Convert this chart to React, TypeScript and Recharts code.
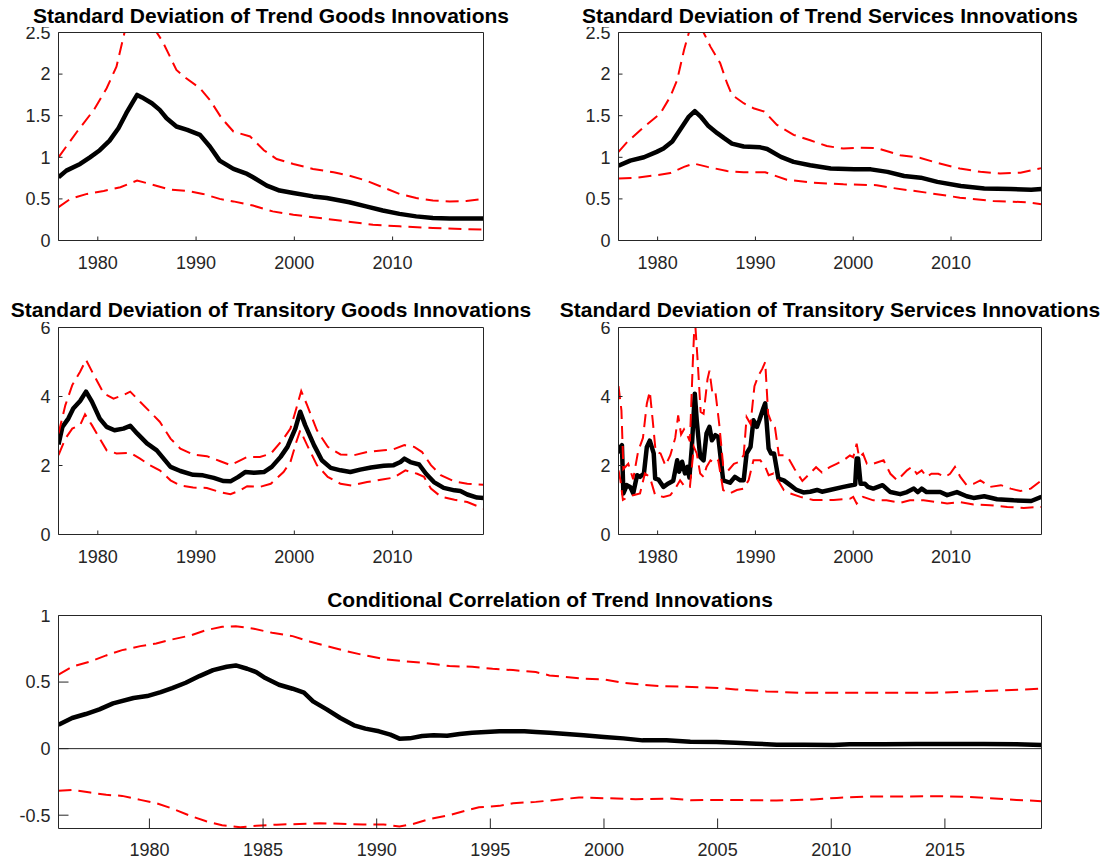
import React from 'react';
import { LineChart, Line, XAxis, YAxis, ReferenceLine } from 'recharts';

const FONT = '"Liberation Sans", Arial, Helvetica, sans-serif';
const AXIS = '#262626';

type P = [number, number];

// ---------- Panel titles ----------
const titles = [
  'Standard Deviation of Trend Goods Innovations',
  'Standard Deviation of Trend Services Innovations',
  'Standard Deviation of Transitory Goods Innovations',
  'Standard Deviation of Transitory Services Innovations',
  'Conditional Correlation of Trend Innovations',
];

// ---------- Axes ----------
const xDomain: [number, number] = [1976, 2019.25];
const xTicksDecade = [1980, 1990, 2000, 2010];
const xTicksFive = [1980, 1985, 1990, 1995, 2000, 2005, 2010, 2015];
const yTicksTrend = [0, 0.5, 1, 1.5, 2, 2.5];
const yTicksTrans = [0, 2, 4, 6];
const yTicksCorr = [-0.5, 0, 0.5, 1];

// ---------- Trend goods ----------
const trendGoodsMedian: P[] = [[1976.0,0.76],[1976.8,0.84],[1978.2,0.92],[1979.2,1.0],[1980.2,1.085],[1981.2,1.2],[1982.1,1.35],[1982.9,1.53],[1983.5,1.65],[1984.0,1.75],[1984.5,1.72],[1985.5,1.65],[1986.3,1.57],[1987.0,1.47],[1988.0,1.37],[1989.1,1.33],[1990.4,1.27],[1991.4,1.13],[1992.4,0.96],[1993.8,0.86],[1995.2,0.8],[1995.8,0.76],[1997.2,0.66],[1998.5,0.6],[1999.9,0.57],[2001.9,0.53],[2003.3,0.51],[2005.6,0.46],[2007.3,0.41],[2009.0,0.36],[2010.7,0.32],[2012.4,0.29],[2014.1,0.27],[2015.8,0.265],[2019.25,0.265]];
const trendGoodsUpper: P[] = [[1976.0,1.0],[1977.9,1.31],[1979.6,1.57],[1980.9,1.83],[1981.9,2.09],[1982.7,2.49],[1983.3,2.78],[1984.0,2.95],[1984.8,2.85],[1985.5,2.65],[1986.0,2.5],[1986.6,2.39],[1988.0,2.05],[1989.0,1.95],[1990.4,1.83],[1991.4,1.69],[1992.6,1.47],[1993.8,1.31],[1995.5,1.25],[1996.9,1.085],[1998.2,0.98],[1999.9,0.92],[2001.9,0.86],[2004.0,0.82],[2005.6,0.78],[2007.3,0.72],[2009.0,0.64],[2010.7,0.56],[2012.4,0.51],[2014.1,0.48],[2015.8,0.47],[2017.5,0.475],[2019.25,0.5]];
const trendGoodsLower: P[] = [[1976.0,0.4],[1977.2,0.5],[1978.9,0.56],[1980.6,0.595],[1982.3,0.64],[1984.0,0.72],[1985.3,0.68],[1987.4,0.61],[1989.1,0.595],[1990.7,0.56],[1992.4,0.5],[1993.8,0.47],[1995.8,0.42],[1997.8,0.35],[1999.9,0.31],[2002.6,0.27],[2005.3,0.23],[2008.0,0.19],[2010.7,0.17],[2014.1,0.15],[2019.25,0.13]];

// ---------- Trend services ----------
const trendServMedian: P[] = [[1976.0,0.9],[1977.2,0.96],[1978.6,1.0],[1979.9,1.065],[1980.6,1.105],[1981.5,1.19],[1982.3,1.33],[1983.2,1.49],[1983.8,1.555],[1984.4,1.49],[1985.2,1.375],[1986.1,1.29],[1986.8,1.23],[1987.6,1.165],[1988.8,1.13],[1990.5,1.12],[1991.2,1.1],[1992.6,1.005],[1993.9,0.945],[1995.6,0.905],[1997.7,0.865],[2000.1,0.855],[2001.8,0.855],[2003.5,0.825],[2005.2,0.775],[2006.9,0.755],[2008.6,0.705],[2011.0,0.655],[2013.4,0.625],[2016.1,0.62],[2018.2,0.61],[2019.25,0.62]];
const trendServUpper: P[] = [[1976.0,1.065],[1976.9,1.185],[1978.6,1.365],[1980.3,1.53],[1981.3,1.73],[1982.0,1.93],[1982.7,2.29],[1983.2,2.5],[1983.9,2.75],[1984.7,2.5],[1985.4,2.33],[1986.4,2.13],[1987.1,1.89],[1987.6,1.75],[1988.8,1.65],[1989.8,1.59],[1990.9,1.55],[1992.2,1.39],[1993.9,1.27],[1995.6,1.205],[1997.3,1.135],[1999.0,1.105],[2000.7,1.115],[2002.4,1.11],[2003.4,1.075],[2004.8,1.025],[2006.8,0.995],[2008.5,0.935],[2010.9,0.865],[2013.0,0.825],[2015.0,0.805],[2017.1,0.815],[2019.25,0.87]];
const trendServLower: P[] = [[1976.0,0.745],[1977.9,0.755],[1979.9,0.785],[1981.3,0.81],[1982.7,0.885],[1983.7,0.925],[1985.1,0.885],[1987.1,0.835],[1988.8,0.82],[1991.0,0.82],[1993.2,0.73],[1995.9,0.695],[1999.0,0.675],[2002.4,0.665],[2004.1,0.63],[2007.5,0.575],[2010.9,0.515],[2014.3,0.475],[2017.7,0.46],[2019.25,0.435]];

// ---------- Transitory goods ----------
const transGoodsMedian: P[] = [[1976.0,2.61],[1976.4,3.12],[1977.0,3.36],[1977.5,3.65],[1978.2,3.87],[1978.8,4.14],[1979.4,3.85],[1980.2,3.36],[1980.9,3.12],[1981.7,3.02],[1982.6,3.07],[1983.3,3.15],[1984.0,2.93],[1985.0,2.64],[1986.0,2.44],[1986.7,2.2],[1987.4,1.96],[1988.4,1.84],[1989.7,1.73],[1990.7,1.715],[1991.8,1.64],[1992.8,1.55],[1993.5,1.54],[1994.3,1.67],[1995.0,1.81],[1995.9,1.79],[1996.9,1.81],[1997.7,1.96],[1998.6,2.25],[1999.3,2.54],[2000.1,3.07],[2000.6,3.56],[2001.1,3.17],[2002.0,2.59],[2002.8,2.15],[2003.7,1.93],[2004.7,1.86],[2005.7,1.81],[2006.7,1.88],[2007.8,1.94],[2009.1,1.99],[2010.1,2.01],[2010.8,2.1],[2011.2,2.2],[2011.8,2.1],[2012.7,2.03],[2013.4,1.76],[2014.2,1.52],[2015.2,1.35],[2016.3,1.28],[2016.9,1.26],[2017.6,1.16],[2018.6,1.07],[2019.25,1.06]];
const transGoodsUpper: P[] = [[1976.0,2.93],[1976.7,3.75],[1977.4,4.33],[1978.2,4.72],[1978.8,5.06],[1979.6,4.62],[1980.6,4.09],[1981.6,3.94],[1982.6,4.04],[1983.3,4.14],[1984.3,3.85],[1985.3,3.56],[1986.3,3.27],[1987.4,2.78],[1988.4,2.49],[1989.7,2.32],[1991.1,2.27],[1992.4,2.13],[1993.5,2.01],[1994.5,2.15],[1995.2,2.25],[1996.5,2.25],[1997.6,2.34],[1998.9,2.78],[1999.6,3.07],[2000.2,3.65],[2000.7,4.16],[2001.3,3.75],[2002.3,3.02],[2003.4,2.54],[2004.7,2.32],[2006.1,2.3],[2007.4,2.39],[2009.1,2.44],[2010.1,2.47],[2011.2,2.59],[2012.2,2.54],[2013.0,2.39],[2013.9,2.01],[2014.9,1.72],[2016.3,1.54],[2017.6,1.47],[2019.25,1.44]];
const transGoodsLower: P[] = [[1976.0,2.3],[1976.7,2.78],[1977.4,3.07],[1978.2,3.17],[1978.7,3.48],[1979.4,3.17],[1980.2,2.78],[1980.9,2.44],[1981.9,2.35],[1983.3,2.37],[1984.3,2.2],[1985.3,2.01],[1986.3,1.86],[1987.4,1.57],[1988.4,1.42],[1989.7,1.36],[1991.1,1.35],[1992.4,1.23],[1993.5,1.17],[1994.5,1.28],[1995.2,1.4],[1996.5,1.38],[1997.6,1.47],[1998.9,1.81],[1999.6,2.1],[2000.2,2.68],[2000.6,3.02],[2001.3,2.59],[2002.3,2.01],[2003.4,1.67],[2004.7,1.47],[2005.8,1.42],[2007.4,1.52],[2009.1,1.6],[2010.1,1.65],[2011.3,1.86],[2012.5,1.76],[2013.2,1.67],[2013.9,1.33],[2014.9,1.1],[2016.3,1.01],[2017.6,0.94],[2019.25,0.75]];

// ---------- Transitory services ----------
const transServMedian: P[] = [[1976.0,2.35],[1976.2,2.54],[1976.35,2.59],[1976.5,1.19],[1976.85,1.43],[1977.2,1.38],[1977.5,1.19],[1977.9,1.72],[1978.2,1.67],[1978.6,1.77],[1978.9,2.54],[1979.2,2.72],[1979.6,2.35],[1979.75,1.62],[1980.1,1.59],[1980.6,1.38],[1981.1,1.48],[1981.6,1.56],[1982.0,2.15],[1982.2,1.82],[1982.5,2.11],[1982.8,1.77],[1983.05,1.96],[1983.25,1.65],[1983.5,2.54],[1983.8,4.08],[1984.0,3.31],[1984.35,2.25],[1984.7,2.15],[1985.0,2.93],[1985.3,3.12],[1985.55,2.73],[1985.9,2.88],[1986.2,2.83],[1986.7,1.57],[1987.4,1.5],[1987.9,1.67],[1988.45,1.57],[1988.8,1.57],[1989.1,2.35],[1989.5,2.54],[1989.8,3.31],[1990.15,3.12],[1990.4,3.31],[1990.8,3.65],[1991.0,3.8],[1991.35,2.49],[1991.6,2.35],[1991.9,2.35],[1992.35,1.62],[1992.9,1.57],[1993.55,1.43],[1994.2,1.29],[1994.9,1.22],[1995.6,1.24],[1996.3,1.29],[1996.8,1.24],[1997.6,1.29],[1999.0,1.38],[2000.2,1.45],[2000.35,2.2],[2000.5,2.2],[2000.75,1.47],[2001.2,1.47],[2001.5,1.38],[2002.05,1.33],[2003.0,1.43],[2003.8,1.23],[2004.8,1.17],[2005.5,1.23],[2006.2,1.33],[2006.6,1.23],[2007.0,1.33],[2007.5,1.23],[2008.9,1.23],[2009.6,1.14],[2010.6,1.23],[2011.6,1.11],[2012.3,1.06],[2013.4,1.11],[2014.7,1.02],[2016.4,0.99],[2018.2,0.97],[2019.25,1.09]];
const transServUpper: P[] = [[1976.0,4.3],[1976.3,3.6],[1976.5,1.9],[1977.0,2.05],[1977.5,1.6],[1978.0,2.4],[1978.5,2.8],[1978.9,3.8],[1979.2,4.15],[1979.5,3.3],[1979.8,2.4],[1980.3,2.35],[1980.8,2.0],[1981.3,2.3],[1981.8,2.8],[1982.1,3.45],[1982.4,2.9],[1982.7,3.05],[1983.0,2.9],[1983.3,2.7],[1983.6,5.0],[1983.8,6.3],[1984.1,5.0],[1984.4,3.55],[1984.7,3.5],[1985.1,4.5],[1985.3,4.75],[1985.6,4.1],[1985.9,4.15],[1986.3,3.2],[1986.7,2.0],[1987.2,1.85],[1987.8,2.05],[1988.3,2.1],[1988.8,2.3],[1989.1,3.4],[1989.5,3.2],[1989.9,4.3],[1990.3,4.6],[1990.7,4.8],[1991.0,5.0],[1991.3,3.5],[1991.7,3.2],[1992.0,3.1],[1992.4,2.3],[1992.9,2.3],[1993.4,2.2],[1994.0,1.9],[1994.8,1.55],[1995.5,1.75],[1996.2,1.95],[1996.8,1.8],[1997.6,1.95],[1998.3,2.05],[1999.0,2.15],[1999.66,2.29],[2000.0,2.24],[2000.35,2.63],[2000.6,2.24],[2001.0,2.34],[2001.4,2.05],[2002.05,2.05],[2003.1,2.15],[2003.8,1.76],[2004.5,1.57],[2005.5,1.86],[2006.0,1.96],[2006.5,1.76],[2007.0,1.86],[2007.5,1.67],[2008.0,1.76],[2008.7,1.76],[2009.4,1.67],[2009.9,1.76],[2010.4,1.96],[2010.95,1.67],[2011.6,1.43],[2012.3,1.47],[2013.0,1.57],[2014.0,1.38],[2015.1,1.43],[2016.1,1.33],[2017.1,1.26],[2018.15,1.33],[2019.25,1.57]];
const transServLower: P[] = [[1976.0,1.86],[1976.2,1.57],[1976.45,1.0],[1977.0,1.09],[1977.5,1.14],[1978.2,1.19],[1978.7,1.77],[1979.2,1.67],[1979.75,1.14],[1980.6,1.09],[1981.3,1.14],[1981.8,1.33],[1982.3,1.57],[1982.8,1.38],[1983.3,1.38],[1983.7,2.54],[1984.0,2.35],[1984.35,1.77],[1984.7,1.67],[1985.0,1.96],[1985.4,2.15],[1985.9,2.06],[1986.2,2.15],[1986.7,1.29],[1987.4,1.19],[1988.1,1.29],[1988.8,1.33],[1989.3,1.57],[1989.8,2.15],[1990.5,2.15],[1991.0,1.96],[1991.35,1.72],[1991.85,1.77],[1992.2,1.62],[1992.9,1.29],[1993.55,1.19],[1994.6,1.09],[1995.9,1.0],[1998.0,1.0],[1999.7,1.04],[2000.0,1.09],[2000.35,0.9],[2001.0,1.09],[2002.05,0.99],[2003.4,0.99],[2004.8,0.92],[2005.8,0.99],[2007.2,0.99],[2008.6,0.94],[2009.6,0.9],[2010.95,0.94],[2012.3,0.87],[2014.0,0.85],[2015.75,0.8],[2017.45,0.77],[2019.25,0.8]];

// ---------- Conditional correlation ----------
const corrMedian: P[] = [[1976.0,0.18],[1976.6,0.23],[1977.2,0.26],[1977.8,0.295],[1978.4,0.34],[1979.3,0.38],[1979.9,0.395],[1980.5,0.425],[1981.0,0.455],[1981.6,0.495],[1982.2,0.545],[1982.8,0.59],[1983.4,0.615],[1983.8,0.625],[1984.3,0.6],[1984.7,0.575],[1985.1,0.53],[1985.7,0.48],[1986.3,0.45],[1986.8,0.42],[1987.2,0.355],[1987.8,0.295],[1988.4,0.23],[1989.0,0.175],[1989.5,0.15],[1990.1,0.13],[1990.6,0.105],[1991.0,0.075],[1991.45,0.077],[1992.0,0.095],[1992.5,0.1],[1993.1,0.097],[1993.65,0.11],[1994.2,0.12],[1994.8,0.125],[1995.4,0.13],[1996.0,0.13],[1996.5,0.13],[1997.0,0.125],[1997.6,0.12],[1999.1,0.1],[2000.0,0.087],[2000.85,0.077],[2001.7,0.062],[2002.75,0.062],[2003.8,0.052],[2004.95,0.05],[2005.8,0.045],[2006.7,0.037],[2007.6,0.03],[2008.8,0.03],[2010.1,0.027],[2010.8,0.032],[2012.3,0.032],[2013.75,0.035],[2015.2,0.035],[2016.7,0.035],[2018.15,0.032],[2019.25,0.027]];
const corrUpper: P[] = [[1976.0,0.555],[1976.6,0.615],[1977.4,0.655],[1978.1,0.7],[1978.8,0.74],[1979.6,0.77],[1980.3,0.79],[1981.0,0.82],[1981.8,0.85],[1982.5,0.89],[1983.2,0.915],[1983.8,0.92],[1984.6,0.9],[1985.4,0.87],[1986.3,0.845],[1987.05,0.805],[1987.8,0.77],[1988.7,0.73],[1989.5,0.7],[1990.4,0.67],[1991.3,0.655],[1992.3,0.64],[1993.2,0.62],[1994.2,0.615],[1995.1,0.6],[1996.0,0.59],[1997.0,0.575],[1997.6,0.55],[1999.1,0.525],[2000.0,0.52],[2000.85,0.495],[2001.7,0.48],[2002.5,0.47],[2003.5,0.465],[2005.0,0.455],[2005.8,0.445],[2007.15,0.43],[2008.6,0.42],[2010.1,0.42],[2011.55,0.42],[2013.0,0.42],[2014.5,0.42],[2016.0,0.427],[2017.4,0.437],[2019.25,0.45]];
const corrLower: P[] = [[1976.0,-0.317],[1976.6,-0.31],[1977.4,-0.33],[1978.1,-0.347],[1978.8,-0.355],[1979.6,-0.385],[1980.3,-0.41],[1981.0,-0.45],[1981.8,-0.505],[1982.5,-0.546],[1983.2,-0.575],[1984.0,-0.59],[1984.7,-0.58],[1985.6,-0.571],[1986.6,-0.566],[1987.5,-0.56],[1988.4,-0.565],[1989.4,-0.57],[1990.3,-0.57],[1991.0,-0.585],[1991.6,-0.566],[1992.3,-0.53],[1993.2,-0.5],[1993.9,-0.466],[1994.5,-0.44],[1995.4,-0.43],[1996.0,-0.41],[1997.0,-0.4],[1997.6,-0.39],[1998.9,-0.367],[2000.0,-0.372],[2001.4,-0.38],[2002.9,-0.375],[2003.8,-0.387],[2004.95,-0.385],[2006.4,-0.387],[2007.6,-0.39],[2009.2,-0.382],[2010.25,-0.37],[2011.55,-0.36],[2013.0,-0.36],[2014.5,-0.357],[2016.0,-0.362],[2017.0,-0.372],[2018.15,-0.385],[2019.25,-0.395]];

const toPts = (a: P[]) => a.map(([x, y]) => ({ x, y }));

const XTick = (props: any) => {
  const { x, y, payload } = props;
  return (
    <text x={x} y={y} dy="0.71em" textAnchor="middle" fontSize={18} fontFamily={FONT} fill={AXIS}>
      {String(payload.value)}
    </text>
  );
};

const YTick = (props: any) => {
  const { x, y, payload } = props;
  return (
    <text x={x} y={y} dy="0.355em" textAnchor="end" fontSize={18} fontFamily={FONT} fill={AXIS}>
      {String(payload.value)}
    </text>
  );
};

type PanelProps = {
  rect: [number, number, number, number];
  yDomain: [number, number];
  yTicks: number[];
  xTicks: number[];
  tickLen: number;
  labelGapX: number;
  median: P[];
  upper: P[];
  lower: P[];
  zero?: boolean;
};

function Panel({ rect, yDomain, yTicks, xTicks, tickLen, labelGapX, median, upper, lower, zero }: PanelProps) {
  const [l, t, r, b] = rect;
  const left = Math.floor(l) - 60;
  const top = Math.floor(t) - 5;
  const width = Math.ceil(r) + 12 - left;
  const height = Math.ceil(b) + 47 - top;
  const xAxisH = 40;
  const margin = {
    top: t - top - 1,
    left: 0,
    right: left + width - r - 1,
    bottom: top + height - b - xAxisH,
  };
  const red = { stroke: '#ff0000', strokeWidth: 2, strokeDasharray: '13 7' };
  return (
    <div style={{ position: 'absolute', left, top, width, height }}>
      <LineChart width={width} height={height} margin={margin} style={{ overflow: 'visible' }}>
        <XAxis xAxisId="b" type="number" dataKey="x" domain={xDomain} ticks={xTicks} allowDataOverflow interval={0}
          height={xAxisH} tickSize={-tickLen} tickMargin={tickLen + labelGapX} tick={<XTick />}
          axisLine={{ stroke: AXIS, strokeWidth: 1 }} tickLine={{ stroke: AXIS, strokeWidth: 1 }} />
        <XAxis xAxisId="t" orientation="top" type="number" dataKey="x" domain={xDomain} ticks={xTicks} allowDataOverflow interval={0}
          height={1} tickSize={-tickLen} tick={false}
          axisLine={{ stroke: AXIS, strokeWidth: 1 }} tickLine={{ stroke: AXIS, strokeWidth: 1 }} />
        <YAxis yAxisId="l" type="number" domain={yDomain} ticks={yTicks} allowDataOverflow interval={0}
          width={l - left} tickSize={-tickLen} tickMargin={tickLen + 8} tick={<YTick />}
          axisLine={{ stroke: AXIS, strokeWidth: 1 }} tickLine={{ stroke: AXIS, strokeWidth: 1 }} />
        <YAxis yAxisId="r" orientation="right" type="number" domain={yDomain} ticks={yTicks} allowDataOverflow interval={0}
          width={1} tickSize={-tickLen} tick={false}
          axisLine={{ stroke: AXIS, strokeWidth: 1 }} tickLine={{ stroke: AXIS, strokeWidth: 1 }} />
        {zero ? <ReferenceLine xAxisId="b" yAxisId="l" y={0} stroke={AXIS} strokeWidth={1} /> : null}
        <Line xAxisId="b" yAxisId="l" data={toPts(median)} dataKey="y" type="linear" dot={false} activeDot={false}
          stroke="#000000" strokeWidth={4.5} strokeLinejoin="round" isAnimationActive={false} />
        <Line xAxisId="b" yAxisId="l" data={toPts(upper)} dataKey="y" type="linear" dot={false} activeDot={false}
          {...red} isAnimationActive={false} />
        <Line xAxisId="b" yAxisId="l" data={toPts(lower)} dataKey="y" type="linear" dot={false} activeDot={false}
          {...red} isAnimationActive={false} />
      </LineChart>
    </div>
  );
}

export default function App() {
  const titlePos: [number, number][] = [
    [271, 22.7],
    [830, 22.7],
    [271, 316.7],
    [830, 316.7],
    [550, 606.7],
  ];
  return (
    <div style={{ position: 'absolute', left: 0, top: 0, width: 1112, height: 864, background: '#fff', overflow: 'hidden' }}>
      <Panel rect={[58.5, 32.5, 483.5, 240.5]} yDomain={[0, 2.5]} yTicks={yTicksTrend} xTicks={xTicksDecade} tickLen={4} labelGapX={16}
        median={trendGoodsMedian} upper={trendGoodsUpper} lower={trendGoodsLower} />
      <Panel rect={[618.5, 32.5, 1041.5, 240.5]} yDomain={[0, 2.5]} yTicks={yTicksTrend} xTicks={xTicksDecade} tickLen={4} labelGapX={16}
        median={trendServMedian} upper={trendServUpper} lower={trendServLower} />
      <Panel rect={[58.5, 327.5, 483.5, 534.5]} yDomain={[0, 6]} yTicks={yTicksTrans} xTicks={xTicksDecade} tickLen={4} labelGapX={16}
        median={transGoodsMedian} upper={transGoodsUpper} lower={transGoodsLower} />
      <Panel rect={[618.5, 327.5, 1041.5, 534.5]} yDomain={[0, 6]} yTicks={yTicksTrans} xTicks={xTicksDecade} tickLen={4} labelGapX={16}
        median={transServMedian} upper={transServUpper} lower={transServLower} />
      <Panel rect={[58.5, 615.5, 1041.5, 828.5]} yDomain={[-0.6, 1]} yTicks={yTicksCorr} xTicks={xTicksFive} tickLen={10} labelGapX={15}
        median={corrMedian} upper={corrUpper} lower={corrLower} zero />
      <svg width={1112} height={864} style={{ position: 'absolute', left: 0, top: 0, pointerEvents: 'none' }}>
        {titles.map((txt, i) => (
          <text key={txt} x={titlePos[i][0]} y={titlePos[i][1]} textAnchor="middle" fontFamily={FONT} fontWeight="bold" fontSize={21} fill="#000">
            {txt}
          </text>
        ))}
      </svg>
    </div>
  );
}
